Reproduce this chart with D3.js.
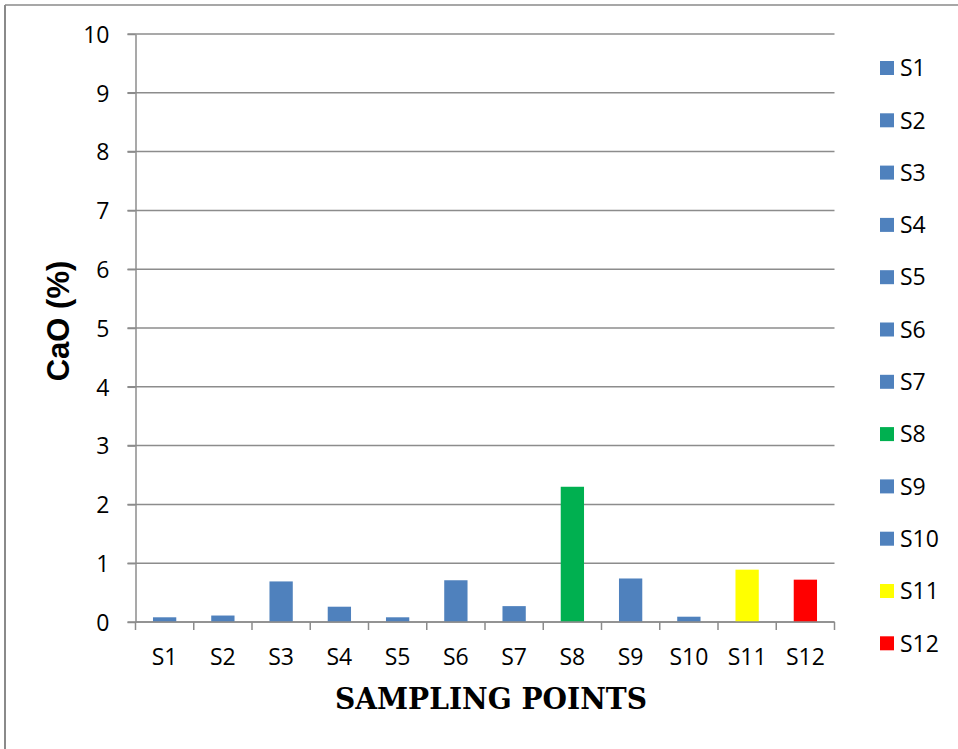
<!DOCTYPE html>
<html>
<head>
<meta charset="utf-8">
<script src="https://cdn.jsdelivr.net/npm/d3@7"></script>
<style>
  html, body { margin: 0; padding: 0; background: #fff; }
  svg { display: block; }
</style>
</head>
<body>
<svg id="chart" width="958" height="749"></svg>
<script>
// CaO content at each sampling point
const samples = ["S1","S2","S3","S4","S5","S6","S7","S8","S9","S10","S11","S12"];
const caoValues = [0.08, 0.11, 0.69, 0.26, 0.08, 0.71, 0.27, 2.30, 0.74, 0.09, 0.89, 0.72];
const barColors = ["#4F81BD","#4F81BD","#4F81BD","#4F81BD","#4F81BD","#4F81BD",
                   "#4F81BD","#00B050","#4F81BD","#4F81BD","#FFFF00","#FF0000"];
const yTicks = [0,1,2,3,4,5,6,7,8,9,10];

const svg = d3.select("#chart");
const W = 958, H = 749;

// outer frame (top and left edges)
svg.append("line").attr("x1", 5).attr("y1", 5).attr("x2", W).attr("y2", 5)
  .attr("stroke", "#8a8a8a").attr("stroke-width", 1.5);
svg.append("line").attr("x1", 5).attr("y1", 5).attr("x2", 5).attr("y2", H)
  .attr("stroke", "#8a8a8a").attr("stroke-width", 2);

const plot = { left: 135.5, right: 834.5, top: 34, bottom: 622 };

const x = d3.scaleBand().domain(samples).range([plot.left, plot.right]).paddingInner(0.6).paddingOuter(0.3);
const xb = d3.scaleBand().domain(samples).range([plot.left, plot.right]);
const y = d3.scaleLinear().domain([0, 10]).range([plot.bottom, plot.top]);

const gridColor = "#8c8c8c";
const labelFont = "'Open Sans', sans-serif";
const labelSize = 23;

// horizontal gridlines
svg.append("g").selectAll("line").data(yTicks).join("line")
  .attr("x1", plot.left - 8).attr("x2", plot.right)
  .attr("y1", d => y(d)).attr("y2", d => y(d))
  .attr("stroke", gridColor).attr("stroke-width", 1.5);

// y axis
const yAxis = svg.append("g").attr("transform", `translate(${plot.left},0)`)
  .call(d3.axisLeft(y).tickValues(yTicks).tickSize(8).tickPadding(18).tickSizeOuter(0));
yAxis.select(".domain").attr("stroke", gridColor).attr("stroke-width", 1.5);
yAxis.selectAll(".tick line").attr("stroke", gridColor).attr("stroke-width", 1.5);
yAxis.selectAll(".tick text").attr("font-family", labelFont).attr("font-size", labelSize)
  .attr("fill", "#000").attr("dy", "0.36em");

// bars
svg.append("g").selectAll("rect").data(samples).join("rect")
  .attr("x", d => x(d))
  .attr("width", x.bandwidth())
  .attr("y", (d, i) => y(caoValues[i]))
  .attr("height", (d, i) => y(0) - y(caoValues[i]))
  .attr("fill", (d, i) => barColors[i]);

// x axis with ticks at category boundaries
const xAxisG = svg.append("g").attr("transform", `translate(0,${plot.bottom})`);
xAxisG.append("line").attr("x1", plot.left).attr("x2", plot.right)
  .attr("stroke", gridColor).attr("stroke-width", 1.5);
const bounds = samples.map(s => xb(s)).concat([plot.right]);
xAxisG.selectAll("line.tk").data(bounds).join("line").attr("class", "tk")
  .attr("x1", d => d).attr("x2", d => d).attr("y1", 0).attr("y2", 8)
  .attr("stroke", gridColor).attr("stroke-width", 1.5);
xAxisG.selectAll("text").data(samples).join("text")
  .attr("x", d => xb(d) + xb.bandwidth() / 2).attr("y", 43)
  .attr("text-anchor", "middle")
  .attr("font-family", labelFont).attr("font-size", labelSize).attr("fill", "#000")
  .text(d => d);

// axis titles
svg.append("text")
  .attr("x", 491).attr("y", 709)
  .attr("text-anchor", "middle")
  .attr("font-family", "'DejaVu Serif', serif").attr("font-weight", "bold")
  .attr("font-size", 29).attr("textLength", 312).attr("lengthAdjust", "spacingAndGlyphs")
  .attr("fill", "#000").text("SAMPLING POINTS");

svg.append("text")
  .attr("transform", "translate(69,321) rotate(-90)")
  .attr("text-anchor", "middle")
  .attr("font-family", "'Liberation Sans', Arial, sans-serif").attr("font-weight", "bold")
  .attr("font-size", 31).attr("fill", "#000").text("CaO (%)");

// legend
const legend = svg.append("g").selectAll("g").data(samples).join("g")
  .attr("transform", (d, i) => `translate(880,${68 + i * 52.3})`);
legend.append("rect").attr("x", 0).attr("y", -7).attr("width", 14).attr("height", 14)
  .attr("fill", (d, i) => barColors[i]);
legend.append("text").attr("x", 20).attr("y", 0).attr("dy", "0.36em")
  .attr("font-family", labelFont).attr("font-size", labelSize).attr("fill", "#000")
  .text(d => d);
</script>
</body>
</html>
